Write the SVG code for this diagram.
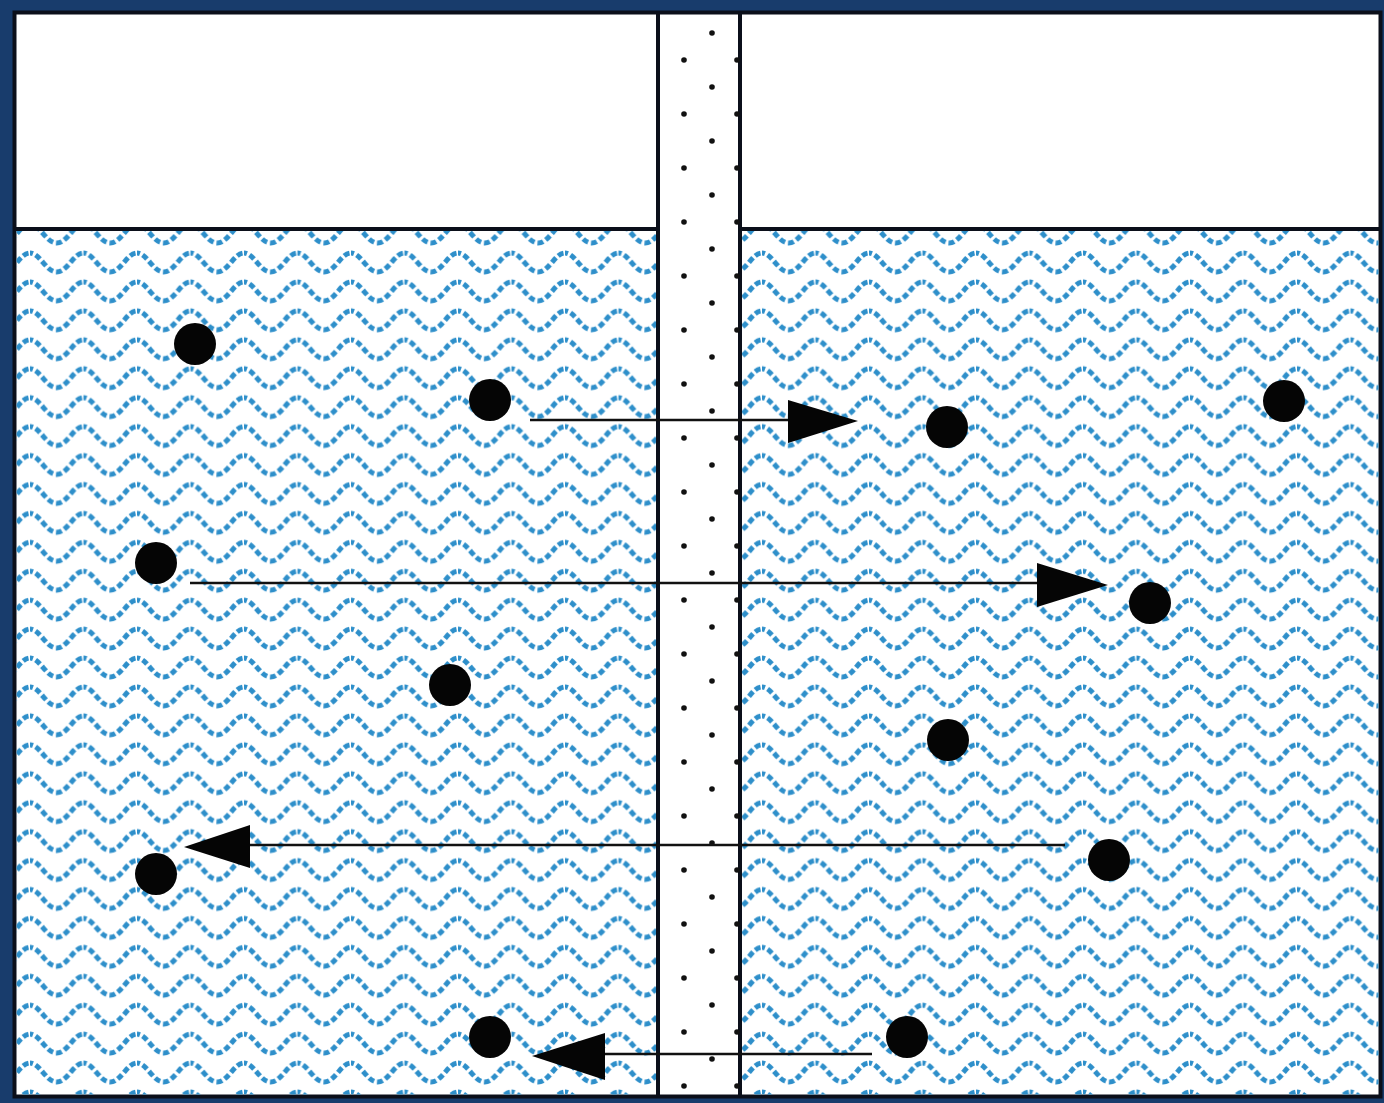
<svg xmlns="http://www.w3.org/2000/svg" width="1384" height="1103" viewBox="0 0 1384 1103">
<style>
.frame{fill:#ffffff;stroke:#0b0f1a;stroke-width:4}
.wl{fill:none;stroke:#2e8fca;stroke-width:5;stroke-dasharray:6 3}
.edge{stroke:#0b0f1a;stroke-width:4}
.mem{stroke:#0b0f1a;stroke-width:4}
.dot{fill:#111111}
.p{fill:#050505}
.ln{stroke:#111111;stroke-width:2.5}
.hd{fill:#050505}
</style>
<defs>
<pattern id="waveL" patternUnits="userSpaceOnUse" x="30" y="250" width="53.5" height="28.93">
<path class="wl" d="M-3 3 L0 3 C10 3 16 22 26.75 22 S43.5 3 53.5 3 L57 3"/>
</pattern>
<pattern id="waveR" patternUnits="userSpaceOnUse" x="762" y="250" width="53.5" height="28.93">
<path class="wl" d="M-3 3 L0 3 C10 3 16 22 26.75 22 S43.5 3 53.5 3 L57 3"/>
</pattern>
</defs>
<rect x="0" y="0" width="1384" height="1103" fill="#183c6c"/>
<rect class="frame" x="14.5" y="12.5" width="1366" height="1084"/>
<g id="water-left">
<rect x="16.5" y="231" width="641" height="863.5" fill="url(#waveL)"/>
</g>
<g id="water-right">
<rect x="740" y="231" width="638.5" height="863.5" fill="url(#waveR)"/>
</g>
<g id="surface">
<line class="edge" x1="14.5" y1="229" x2="658" y2="229"/>
<line class="edge" x1="740" y1="229" x2="1382" y2="229"/>
</g>
<g id="membrane">
<line class="mem" x1="658" y1="12.5" x2="658" y2="1096.5"/>
<line class="mem" x1="740" y1="12.5" x2="740" y2="1096.5"/>
<g class="dot">
<circle cx="684" cy="60" r="2.8"/><circle cx="684" cy="114" r="2.8"/><circle cx="684" cy="168" r="2.8"/><circle cx="684" cy="222" r="2.8"/><circle cx="684" cy="276" r="2.8"/><circle cx="684" cy="330" r="2.8"/><circle cx="684" cy="384" r="2.8"/><circle cx="684" cy="438" r="2.8"/><circle cx="684" cy="492" r="2.8"/><circle cx="684" cy="546" r="2.8"/><circle cx="684" cy="600" r="2.8"/><circle cx="684" cy="654" r="2.8"/><circle cx="684" cy="708" r="2.8"/><circle cx="684" cy="762" r="2.8"/><circle cx="684" cy="816" r="2.8"/><circle cx="684" cy="870" r="2.8"/><circle cx="684" cy="924" r="2.8"/><circle cx="684" cy="978" r="2.8"/><circle cx="684" cy="1032" r="2.8"/><circle cx="684" cy="1086" r="2.8"/>
<circle cx="712" cy="33" r="2.8"/><circle cx="712" cy="87" r="2.8"/><circle cx="712" cy="141" r="2.8"/><circle cx="712" cy="195" r="2.8"/><circle cx="712" cy="249" r="2.8"/><circle cx="712" cy="303" r="2.8"/><circle cx="712" cy="357" r="2.8"/><circle cx="712" cy="411" r="2.8"/><circle cx="712" cy="465" r="2.8"/><circle cx="712" cy="519" r="2.8"/><circle cx="712" cy="573" r="2.8"/><circle cx="712" cy="627" r="2.8"/><circle cx="712" cy="681" r="2.8"/><circle cx="712" cy="735" r="2.8"/><circle cx="712" cy="789" r="2.8"/><circle cx="712" cy="843" r="2.8"/><circle cx="712" cy="897" r="2.8"/><circle cx="712" cy="951" r="2.8"/><circle cx="712" cy="1005" r="2.8"/><circle cx="712" cy="1059" r="2.8"/>
<circle cx="737" cy="60" r="2.8"/><circle cx="737" cy="114" r="2.8"/><circle cx="737" cy="168" r="2.8"/><circle cx="737" cy="222" r="2.8"/><circle cx="737" cy="276" r="2.8"/><circle cx="737" cy="330" r="2.8"/><circle cx="737" cy="384" r="2.8"/><circle cx="737" cy="438" r="2.8"/><circle cx="737" cy="492" r="2.8"/><circle cx="737" cy="546" r="2.8"/><circle cx="737" cy="600" r="2.8"/><circle cx="737" cy="654" r="2.8"/><circle cx="737" cy="708" r="2.8"/><circle cx="737" cy="762" r="2.8"/><circle cx="737" cy="816" r="2.8"/><circle cx="737" cy="870" r="2.8"/><circle cx="737" cy="924" r="2.8"/><circle cx="737" cy="978" r="2.8"/><circle cx="737" cy="1032" r="2.8"/><circle cx="737" cy="1086" r="2.8"/>
</g>
</g>
<g id="connectors">
<line class="ln" x1="530" y1="420" x2="792" y2="420"/>
<polygon class="hd" points="788,400 858,421 788,443"/>
<line class="ln" x1="190" y1="583" x2="1040" y2="583"/>
<polygon class="hd" points="1037,563 1108,585 1037,607"/>
<line class="ln" x1="1065" y1="845" x2="248" y2="845"/>
<polygon class="hd" points="250,825 184,847 250,868"/>
<line class="ln" x1="872" y1="1054" x2="603" y2="1054"/>
<polygon class="hd" points="605,1033 532,1056 605,1080"/>
</g>
<g id="p1"><circle class="p" cx="195" cy="344" r="21"/></g>
<g id="p2"><circle class="p" cx="490" cy="400" r="21"/></g>
<g id="p3"><circle class="p" cx="947" cy="427" r="21"/></g>
<g id="p4"><circle class="p" cx="1284" cy="401" r="21"/></g>
<g id="p5"><circle class="p" cx="156" cy="563" r="21"/></g>
<g id="p6"><circle class="p" cx="1150" cy="603" r="21"/></g>
<g id="p7"><circle class="p" cx="450" cy="685" r="21"/></g>
<g id="p8"><circle class="p" cx="948" cy="740" r="21"/></g>
<g id="p9"><circle class="p" cx="156" cy="874" r="21"/></g>
<g id="p10"><circle class="p" cx="1109" cy="860" r="21"/></g>
<g id="p11"><circle class="p" cx="490" cy="1037" r="21"/></g>
<g id="p12"><circle class="p" cx="907" cy="1037" r="21"/></g>
</svg>
